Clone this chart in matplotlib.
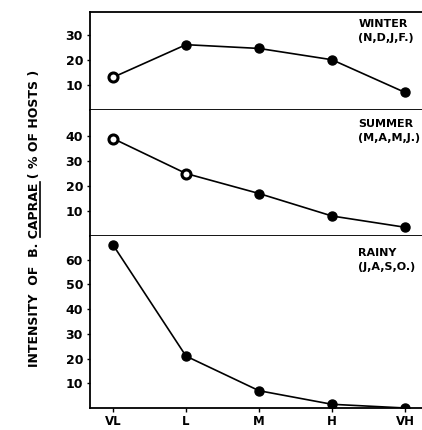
import matplotlib.pyplot as plt
from matplotlib.lines import Line2D

# intensity classes along the x axis
classes = ['VL', 'L', 'M', 'H', 'VH']

# % of hosts infested
winter = [13, 26, 24.5, 20, 7]
summer = [39, 25, 17, 8, 3.5]
rainy = [66, 21, 7, 1.5, 0]

seasons = ['WINTER\n(N,D,J,F.)', 'SUMMER\n(M,A,M,J.)', 'RAINY\n(J,A,S,O.)']
series = [winter, summer, rainy]
yticks = [[10, 20, 30], [10, 20, 30, 40], [10, 20, 30, 40, 50, 60]]
ylims = [(0, 39), (0, 50.4), (0, 69.6)]
# which points are drawn as open circles
hollow = [[0], [0, 1], []]

plt.rcParams['font.family'] = 'DejaVu Sans'
plt.rcParams['font.weight'] = 'bold'

fig = plt.figure(figsize=(4.22, 4.30), dpi=100)
W, H = 422, 430
left = 90 / W
bounds = [(12, 110), (110, 236), (236, 408)]
x = list(range(len(classes)))

for i, (top, bot) in enumerate(bounds):
    ax = fig.add_axes([left, 1 - bot / H, 1 - left, (bot - top) / H])
    ax.plot(x, series[i], color='black', lw=1.2, zorder=2)
    for j, v in enumerate(series[i]):
        if j in hollow[i]:
            ax.plot(j, v, 'o', ms=6.5, mfc='white', mec='black', mew=2.2, zorder=3)
        else:
            ax.plot(j, v, 'o', ms=6.5, color='black', zorder=3)
    ax.set_xlim(-23 / 73, (W - 113) / 73)
    ax.set_ylim(*ylims[i])
    ax.set_yticks(yticks[i])
    ax.set_yticklabels([str(t) for t in yticks[i]], fontsize=9, fontweight='bold')
    ax.tick_params(axis='y', direction='out', length=2, width=1, pad=3)
    ax.spines['right'].set_visible(False)
    for s in ['left', 'top', 'bottom']:
        ax.spines[s].set_linewidth(1.3)
    if i > 0:
        ax.spines['top'].set_visible(False)
    if i < 2:
        ax.set_xticks([])
    else:
        ax.set_xticks(x)
        ax.set_xticklabels(classes, fontsize=8.5, fontweight='bold')
        ax.tick_params(axis='x', direction='out', length=3, width=1, pad=2)
    ax.text(3.36, ylims[i][1] * 0.93, seasons[i], fontsize=8, fontweight='bold',
            ha='left', va='top', linespacing=1.5, clip_on=False)

# y label, with the species name underlined
prefix = 'INTENSITY  OF  B. '
name = 'CAPRAE'
label = fig.text(35 / W, 1 - 218 / H, prefix + name + ' ( % OF HOSTS )',
                 rotation=90, ha='center', va='center', fontsize=9, fontweight='bold')
r = fig.canvas.get_renderer()
bb = label.get_window_extent(r)
tmp = fig.text(0, 0, prefix, fontsize=9, fontweight='bold')
w_pre = tmp.get_window_extent(r).width
tmp.set_text(prefix + name)
w_name = tmp.get_window_extent(r).width - w_pre
tmp.remove()
ux = (bb.x1 - 1.5) / W
uy0 = (bb.y0 + w_pre + 1) / H
uy1 = (bb.y0 + w_pre + w_name) / H
fig.add_artist(Line2D([ux, ux], [uy0, uy1], transform=fig.transFigure,
                      color='black', lw=1.2))

fig.savefig('out.png', dpi=100)
